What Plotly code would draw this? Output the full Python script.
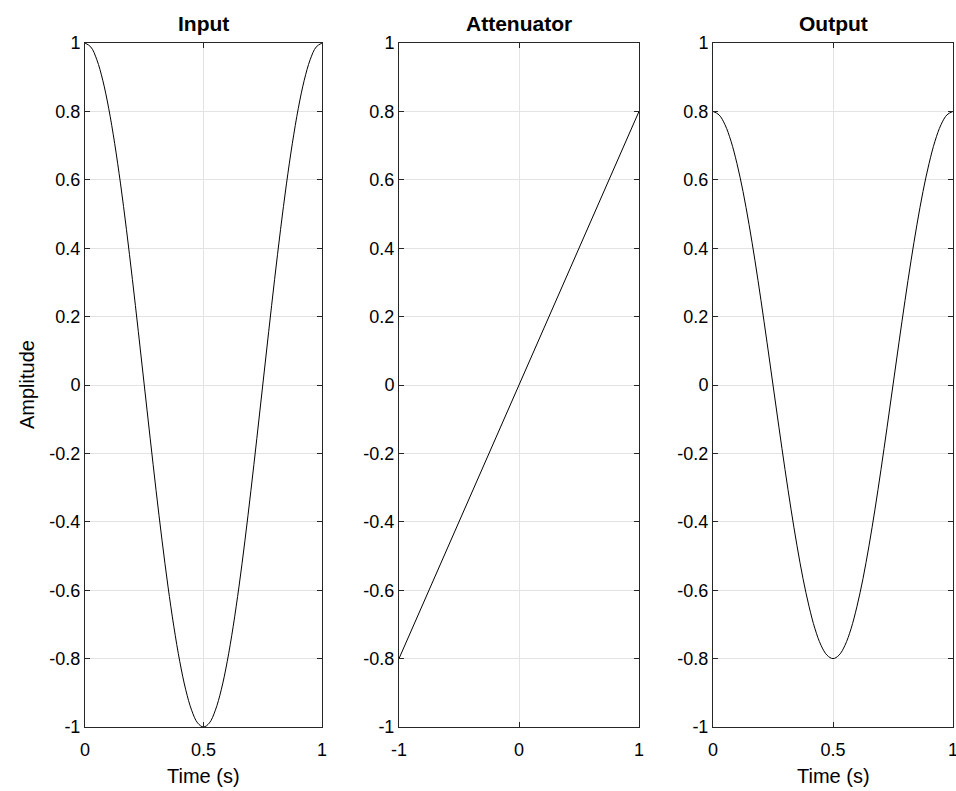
import plotly.graph_objects as go

# Input signal (time in s, amplitude)
t_in = [0, 0.025, 0.05, 0.075, 0.1, 0.125, 0.15, 0.175, 0.2, 0.225, 0.25,
        0.275, 0.3, 0.325, 0.35, 0.375, 0.4, 0.425, 0.45, 0.475, 0.5,
        0.525, 0.55, 0.575, 0.6, 0.625, 0.65, 0.675, 0.7, 0.725, 0.75,
        0.775, 0.8, 0.825, 0.85, 0.875, 0.9, 0.925, 0.95, 0.975, 1]
amp_in = [1, 0.988, 0.951, 0.891, 0.809, 0.707, 0.588, 0.454, 0.309, 0.156, 0,
          -0.156, -0.309, -0.454, -0.588, -0.707, -0.809, -0.891, -0.951, -0.988, -1,
          -0.988, -0.951, -0.891, -0.809, -0.707, -0.588, -0.454, -0.309, -0.156, 0,
          0.156, 0.309, 0.454, 0.588, 0.707, 0.809, 0.891, 0.951, 0.988, 1]

# Attenuator transfer curve
x_att = [-1, 1]
y_att = [-0.8, 0.8]

# Output signal
t_out = t_in
amp_out = [0.8, 0.790, 0.761, 0.713, 0.647, 0.566, 0.470, 0.363, 0.247, 0.125, 0,
           -0.125, -0.247, -0.363, -0.470, -0.566, -0.647, -0.713, -0.761, -0.790, -0.8,
           -0.790, -0.761, -0.713, -0.647, -0.566, -0.470, -0.363, -0.247, -0.125, 0,
           0.125, 0.247, 0.363, 0.470, 0.566, 0.647, 0.713, 0.761, 0.790, 0.8]

titles = ['Input', 'Attenuator', 'Output']
y_ticks = [-1, -0.8, -0.6, -0.4, -0.2, 0, 0.2, 0.4, 0.6, 0.8, 1]
y_ticktext = ['-1', '-0.8', '-0.6', '-0.4', '-0.2', '0', '0.2', '0.4', '0.6', '0.8', '1']
x_ticks_time = [0, 0.5, 1]
x_ticktext_time = ['0', '0.5', '1']
x_ticks_att = [-1, 0, 1]
x_ticktext_att = ['-1', '0', '1']

FONT = 'Liberation Sans, Arial, sans-serif'
W, H = 956, 791
domains = [(85 / W, 322 / W), (399 / W, 639 / W), (713 / W, 953 / W)]
ydom = (1 - 727 / H, 1 - 43 / H)

fig = go.Figure()
line = dict(color='black', width=1)
fig.add_trace(go.Scatter(x=t_in, y=amp_in, mode='lines', line=dict(shape='spline', **line),
                         xaxis='x', yaxis='y'))
fig.add_trace(go.Scatter(x=x_att, y=y_att, mode='lines', line=line, xaxis='x2', yaxis='y2'))
fig.add_trace(go.Scatter(x=t_out, y=amp_out, mode='lines', line=dict(shape='spline', **line),
                         xaxis='x3', yaxis='y3'))

ax_common = dict(showline=True, linecolor='#262626', linewidth=1, mirror='ticks',
                 ticks='inside', ticklen=5, tickcolor='#262626', tickwidth=1,
                 showgrid=True, gridcolor='#e3e3e3', gridwidth=1, zeroline=False,
                 automargin=False, ticklabeloverflow='allow',
                 tickfont=dict(family=FONT, size=18, color='#000000'))

layout = dict(width=W, height=H, margin=dict(l=0, r=0, t=0, b=0, autoexpand=False),
              template='none', font=dict(family=FONT, size=18, color='black'),
              plot_bgcolor='white', paper_bgcolor='white', showlegend=False)

xticks = [(x_ticks_time, x_ticktext_time, [0, 1]),
          (x_ticks_att, x_ticktext_att, [-1, 1]),
          (x_ticks_time, x_ticktext_time, [0, 1])]

annotations = []
for i in range(3):
    sfx = '' if i == 0 else str(i + 1)
    tv, tt, rng = xticks[i]
    layout['xaxis' + sfx] = dict(ax_common, domain=domains[i], range=rng, tickvals=tv,
                                 ticktext=tt, anchor='y' + sfx, ticklabelstandoff=6)
    layout['yaxis' + sfx] = dict(ax_common, domain=ydom, range=[-1, 1], tickvals=y_ticks,
                                 ticktext=y_ticktext, anchor='x' + sfx)
    xc = (domains[i][0] + domains[i][1]) / 2
    annotations.append(dict(text='<b>' + titles[i] + '</b>', x=xc, y=1 - 23 / H,
                            xanchor='center', yanchor='middle',
                            xref='paper', yref='paper', showarrow=False,
                            font=dict(family=FONT, size=21, color='black')))
    if i != 1:
        annotations.append(dict(text='Time (s)', x=xc, y=1 - 776 / H,
                                xanchor='center', yanchor='middle',
                                xref='paper', yref='paper', showarrow=False,
                                font=dict(family=FONT, size=20, color='black')))

annotations.append(dict(text='Amplitude', x=27 / W, y=1 - 385 / H, textangle=-90,
                        xanchor='center', yanchor='middle',
                        xref='paper', yref='paper', showarrow=False,
                        font=dict(family=FONT, size=20, color='black')))
layout['annotations'] = annotations

fig.update_layout(**layout)
fig.write_html('out.html', config={'displayModeBar': False},
               post_script="document.body.style.margin='0';")
